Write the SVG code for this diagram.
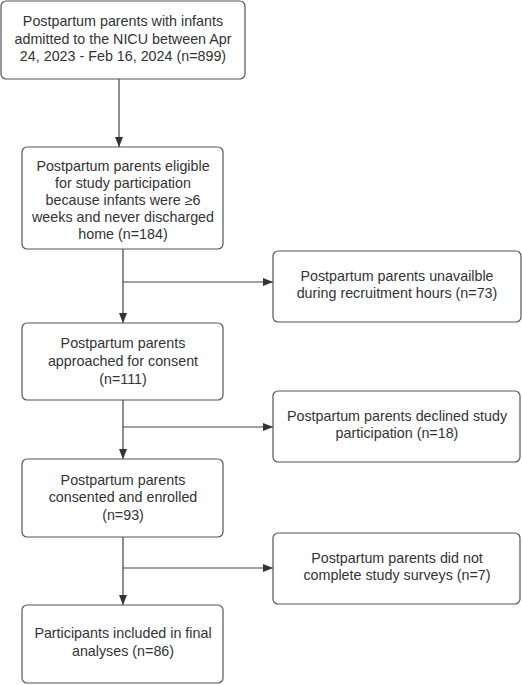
<svg xmlns="http://www.w3.org/2000/svg" width="522" height="685" viewBox="0 0 522 685">
<style>
.box{fill:#fff;stroke:#555;stroke-width:1.2}
text{font-family:"Liberation Sans",Arial,sans-serif;font-size:14.3px;fill:#333;text-anchor:middle}
.ln{stroke:#444;stroke-width:1.2;fill:none}
</style>
<defs>
<marker id="ah" viewBox="0 0 10 10" refX="10" refY="5" markerWidth="10" markerHeight="10" markerUnits="userSpaceOnUse" orient="auto">
<path d="M0,1 L10,5 L0,9 Z" fill="#333"/>
</marker>
</defs>
<rect width="522" height="685" fill="#fff"/>
<g id="connectors">
<line class="ln" x1="119" y1="79" x2="119" y2="147" marker-end="url(#ah)"/>
<line class="ln" x1="123" y1="249" x2="123" y2="323" marker-end="url(#ah)"/>
<line class="ln" x1="123" y1="282" x2="273" y2="282" marker-end="url(#ah)"/>
<line class="ln" x1="123" y1="400" x2="123" y2="459" marker-end="url(#ah)"/>
<line class="ln" x1="123" y1="427" x2="273" y2="427" marker-end="url(#ah)"/>
<line class="ln" x1="123" y1="537" x2="123" y2="605" marker-end="url(#ah)"/>
<line class="ln" x1="123" y1="568" x2="273" y2="568" marker-end="url(#ah)"/>
</g>
<g id="n1">
<rect class="box" x="1" y="1" width="244" height="78" rx="5"/>
<text x="123" y="26">Postpartum parents with infants</text>
<text x="123" y="43.5">admitted to the NICU between Apr</text>
<text x="123" y="61">24, 2023 - Feb 16, 2024 (n=899)</text>
</g>
<g id="n2">
<rect class="box" x="22" y="147" width="201" height="102" rx="5"/>
<text x="123" y="171">Postpartum parents eligible</text>
<text x="123" y="188">for study participation</text>
<text x="123" y="205">because infants were ≥6</text>
<text x="123" y="222">weeks and never discharged</text>
<text x="123" y="239">home (n=184)</text>
</g>
<g id="n3">
<rect class="box" x="273" y="251" width="248" height="71" rx="5"/>
<text x="397" y="281">Postpartum parents unavailble</text>
<text x="397" y="298">during recruitment hours (n=73)</text>
</g>
<g id="n4">
<rect class="box" x="22" y="323" width="201" height="77" rx="5"/>
<text x="123" y="348">Postpartum parents</text>
<text x="123" y="366">approached for consent</text>
<text x="123" y="384">(n=111)</text>
</g>
<g id="n5">
<rect class="box" x="273" y="391" width="247" height="71" rx="5"/>
<text x="397" y="421">Postpartum parents declined study</text>
<text x="397" y="438">participation (n=18)</text>
</g>
<g id="n6">
<rect class="box" x="22" y="459" width="201" height="78" rx="5"/>
<text x="123" y="485">Postpartum parents</text>
<text x="123" y="502">consented and enrolled</text>
<text x="123" y="520">(n=93)</text>
</g>
<g id="n7">
<rect class="box" x="273" y="533" width="247" height="71" rx="5"/>
<text x="397" y="563">Postpartum parents did not</text>
<text x="397" y="580">complete study surveys (n=7)</text>
</g>
<g id="n8">
<rect class="box" x="22" y="605" width="201" height="78" rx="5"/>
<text x="123" y="638">Participants included in final</text>
<text x="123" y="656">analyses (n=86)</text>
</g>
</svg>
